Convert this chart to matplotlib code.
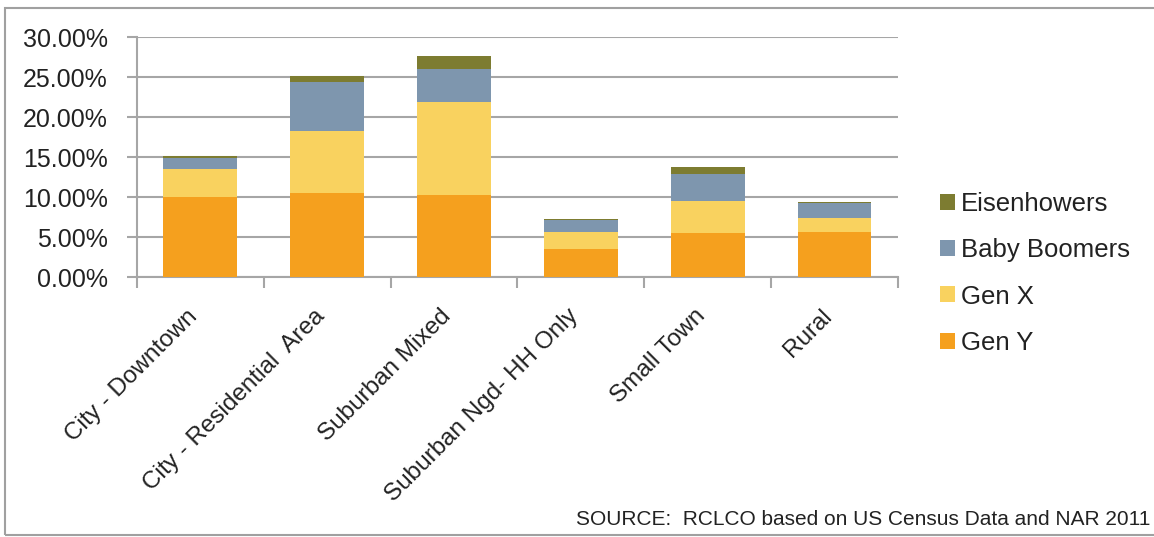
import matplotlib
matplotlib.use('Agg')
import matplotlib.pyplot as plt
import matplotlib.patches as mpatches
import matplotlib.transforms as mtransforms
from matplotlib.ticker import FuncFormatter, FixedLocator
import numpy as np

plt.rcParams['font.family'] = ['Liberation Sans', 'DejaVu Sans']

categories = ['City - Downtown', 'City - Residential  Area', 'Suburban Mixed',
              'Suburban Ngd- HH Only', 'Small Town', 'Rural']
gen_y = [10.1, 10.5, 10.3, 3.55, 5.5, 5.65]
gen_x = [3.5, 7.8, 11.65, 2.15, 4.05, 1.8]
baby_boomers = [1.3, 6.15, 4.15, 1.45, 3.4, 1.8]
eisenhowers = [0.25, 0.75, 1.6, 0.12, 0.9, 0.12]

series = [('Gen Y', gen_y, '#F5A01E'),
          ('Gen X', gen_x, '#F9D25F'),
          ('Baby Boomers', baby_boomers, '#7E96AE'),
          ('Eisenhowers', eisenhowers, '#7D7C31')]

fig = plt.figure(figsize=(11.54, 5.37), dpi=100)
ax = fig.add_axes([0.1185, 0.4836, 0.6597, 0.4469])

x = np.arange(len(categories))
bottom = np.zeros(len(categories))
for name, vals, col in series:
    ax.bar(x, vals, 0.58, bottom=bottom, color=col, label=name, zorder=3)
    bottom += np.array(vals)

grid_col = '#A6A6A6'
ax.set_xlim(-0.5, len(categories) - 0.5)
ax.set_ylim(0, 30)
ax.set_yticks(np.arange(0, 31, 5))
ax.yaxis.set_major_formatter(FuncFormatter(lambda v, p: '%.2f%%' % v))
ax.yaxis.grid(True, color=grid_col, linewidth=1.5, zorder=0)
for s in ['top', 'right']:
    ax.spines[s].set_visible(False)
for s in ['left', 'bottom']:
    ax.spines[s].set_color(grid_col)
    ax.spines[s].set_linewidth(1.5)
ax.tick_params(axis='y', length=7, width=1.5, color=grid_col, labelsize=18,
               labelcolor='#222222', pad=14)

ax.set_xticks(x)
ax.set_xticklabels(categories, rotation=45, ha='right', rotation_mode='anchor',
                   fontsize=17.5, color='#222222')
ax.tick_params(axis='x', which='major', length=0, pad=20)
shift = mtransforms.ScaledTranslation(-10 / 72, 0, fig.dpi_scale_trans)
for lab in ax.get_xticklabels():
    lab.set_transform(lab.get_transform() + shift)
ax.xaxis.set_minor_locator(FixedLocator(np.arange(-0.5, len(categories), 1)))
ax.tick_params(axis='x', which='minor', length=8, width=1.5, color=grid_col)

handles, labels = ax.get_legend_handles_labels()
fig.legend(handles[::-1], labels[::-1], loc='center left',
           bbox_to_anchor=(0.8146, 0.4907), frameon=False, fontsize=18.5,
           handlelength=0.58, handleheight=0.58, handletextpad=0.25,
           labelspacing=0.86, borderpad=0, borderaxespad=0,
           labelcolor='#222222')

fig.text(0.997, 0.022, 'SOURCE:  RCLCO based on US Census Data and NAR 2011',
         ha='right', va='baseline', fontsize=15, color='#222222')

border = mpatches.Rectangle((5 / 1154, 2 / 537), 1.2, 527 / 537,
                            transform=fig.transFigure, fill=False,
                            edgecolor='#A0A0A0', linewidth=1.5)
fig.patches.append(border)

fig.savefig('out.png', dpi=100)
